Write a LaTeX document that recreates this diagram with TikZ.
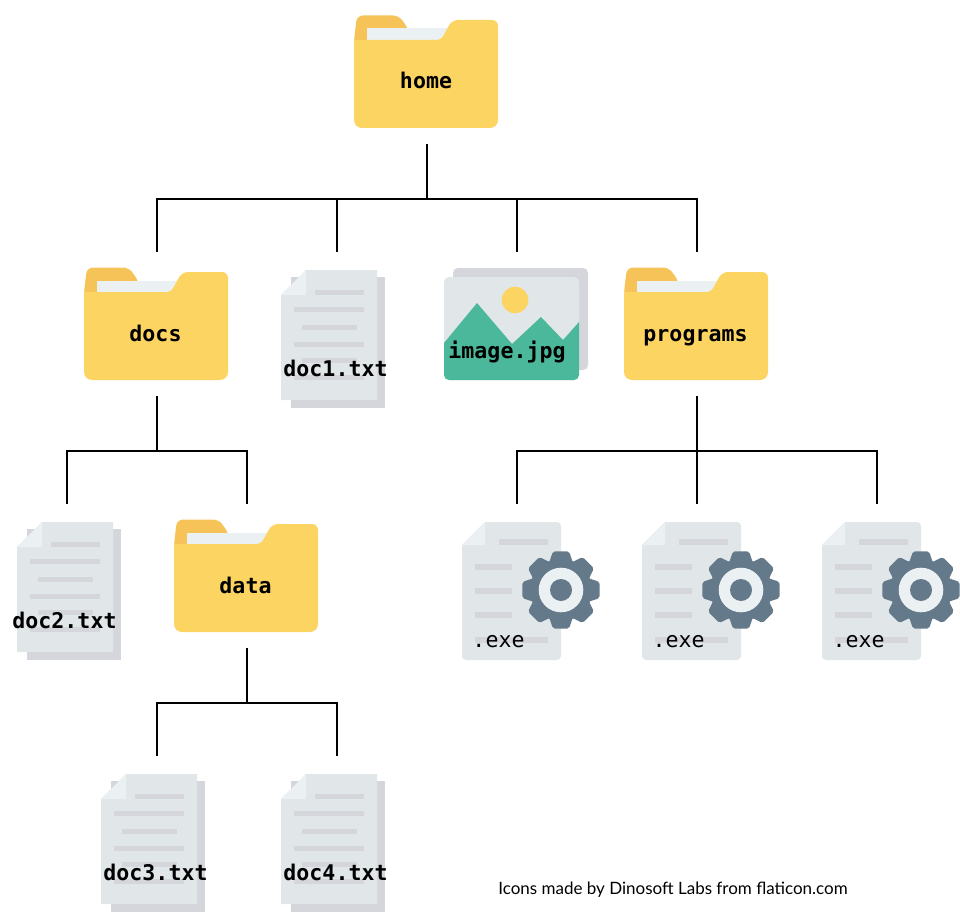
\documentclass[tikz,border=0pt]{standalone}
\usepackage{fontspec}
\setmonofont{DejaVu Sans Mono}
\setsansfont{Lato}
\usetikzlibrary{
  positioning
}
\definecolor{folderYellow}{HTML}{FCD462}
\definecolor{folderBack}{HTML}{F6C358}
\definecolor{paperLight}{HTML}{EBF0F3}
\definecolor{pageGray}{HTML}{E1E6E9}
\definecolor{stripeGray}{HTML}{D5D6DB}
\definecolor{hillGreen}{HTML}{4CB89B}
\definecolor{gearSlate}{HTML}{64798A}
\tikzset{
  folder/.pic={
    \fill[folderBack, rounded corners=6pt] (-73,-20) -- (-73,-32) -- (-70,-56.5) -- (-28,-56.5) -- (-18,-42) -- (-18,-20) -- cycle;
    \fill[paperLight] (-60.5,-43.5) rectangle (26,-28);
    \fill[folderYellow] (-73,-32) [rounded corners=4pt] -- (14,-32) [rounded corners=6pt] -- (25,-52) -- (71,-52) [rounded corners=8pt] -- (71,56) -- (-73,56) -- (-73,-20) [sharp corners] -- cycle;
  },
  document/.pic={
    \fill[stripeGray] (-46,-47) rectangle (48,84);
    \fill[pageGray] (-56,-29) -- (-31,-54) -- (40,-54) -- (40,76) -- (-56,76) -- cycle;
    \fill[paperLight] (-56,-29) -- (-31,-54) -- (-31,-29) -- cycle;
    \foreach \xa/\xb/\ya in {-22/27/-34, -43/27/-17, -35/20/1, -43/27/18, -35/20/34, -43/27/51}
      \fill[stripeGray] (\xa,\ya) rectangle (\xb,\ya+5);
  },
  picture/.pic={
    \fill[stripeGray, rounded corners=5pt] (-64,-56) rectangle (71,46);
    \fill[pageGray, rounded corners=5pt] (-73,-47) rectangle (62,56);
    \fill[hillGreen] (-73,19) -- (-40,-21) -- (-5,20) -- (24,-7) -- (46,16) -- (62,-2) [rounded corners=5pt] -- (62,56) -- (-73,56) -- (-73,30) [sharp corners] -- cycle;
    \fill[folderYellow] (-2,-24) circle[radius=13.3];
  },
  program/.pic={
    \fill[pageGray, rounded corners=4pt] (-55,-31) [sharp corners] -- (-32,-54) [rounded corners=4pt] -- (44,-54) -- (44,84) -- (-55,84) -- (-55,60) [sharp corners] -- cycle;
    \fill[paperLight] (-55,-31) -- (-32,-54) -- (-32,-31) -- cycle;
    \foreach \xa/\xb/\ya in {-18/31/-37, -42/-5/-12, -42/-5/12, -42/-5/36, -42/31/61}
      \fill[stripeGray] (\xa,\ya) rectangle (\xb,\ya+5.5);
    \begin{scope}[shift={(44,14)}]
      \fill[gearSlate] (0,0) circle[radius=31];
      \foreach \a in {0,45,...,315}
        \fill[gearSlate, rotate=\a, rounded corners=2pt] (27,-12) -- (38.7,-8) -- (38.7,8) -- (27,12) -- cycle;
      \fill[paperLight] (0,0) circle[radius=22.3];
      \fill[gearSlate] (0,0) circle[radius=11];
    \end{scope}
  }
}

\begin{document}
\begin{tikzpicture}[
    x=1pt, y=-1pt,
    node distance=108pt and 36pt,
    slot/.style={rectangle, inner sep=0pt, minimum width=144pt, minimum height=112pt, outer ysep=16pt, outer xsep=0pt},
    link/.style={draw=black, line width=2pt},
    filename/.style={font=\ttfamily\bfseries\fontsize{21.6}{24}\selectfont, anchor=base, inner sep=0pt, text=black},
    exename/.style={font=\ttfamily\fontsize{21.6}{24}\selectfont, anchor=base, inner sep=0pt, text=black, xshift=-18.5pt, yshift=-71.5pt},
    foldertext/.style={filename, xshift=-1.5pt, yshift=-17pt},
    doctext/.style={filename, xshift=-1.5pt, yshift=-52pt}
]
    \useasboundingbox (0,0) rectangle (960,912);

    % slots of the tree
    \node[slot] (home) at (427,72) {};

    \node[slot, below=of home, xshift=-270pt] (docs) {};
    \node[slot, right=of docs] (doc1) {};
    \node[slot, right=of doc1] (image) {};
    \node[slot, right=of image] (programs) {};

    \node[slot, below=of docs, xshift=-90pt] (doc2) {};
    \node[slot, right=of doc2] (data) {};
    \node[slot, below=of programs, xshift=-180pt] (exe1) {};
    \node[slot, right=of exe1] (exe2) {};
    \node[slot, right=of exe2] (exe3) {};

    \node[slot, below=of data, xshift=-90pt] (doc3) {};
    \node[slot, right=of doc3] (doc4) {};

    % icons
    \foreach \f in {home,docs,programs,data}
        \pic at (\f) {folder};
    \foreach \d in {doc1,doc3,doc4}
        \pic at (\d) {document};
    \pic[xshift=6pt] at (doc2) {document};
    \pic at (image) {picture};
    \foreach \e in {exe1,exe2,exe3}
        \pic at (\e) {program};

    % labels
    \node[foldertext, xshift=0.5pt] (homeText) at (home) {home};
    \node[foldertext] (docsText) at (docs) {docs};
    \node[foldertext] (programsText) at (programs) {programs};
    \node[foldertext] (dataText) at (data) {data};
    \node[doctext] (doc1Text) at (doc1) {doc1.txt};
    \node[doctext, xshift=-1pt] (doc2Text) at (doc2) {doc2.txt};
    \node[doctext] (doc3Text) at (doc3) {doc3.txt};
    \node[doctext] (doc4Text) at (doc4) {doc4.txt};
    \node[filename, xshift=-10pt, yshift=-34pt] (imageText) at (image) {image.jpg};
    \node[exename] (exe1Text) at (exe1) {.exe};
    \node[exename] (exe2Text) at (exe2) {.exe};
    \node[exename] (exe3Text) at (exe3) {.exe};

    \node[font=\sffamily\fontsize{17}{20}\selectfont, anchor=base, inner sep=0pt] (credit) at (673,894) {Icons made by Dinosoft Labs from flaticon.com};

    % connectors
    \coordinate[below=55pt of home] (homeBus);
    \coordinate[below=55pt of docs] (docsBus);
    \coordinate[below=55pt of programs] (programsBus);
    \coordinate[below=55pt of data] (dataBus);

    \draw[link] (home) -- (homeBus);
    \draw[link] (docs) -- (docsBus);
    \draw[link] (programs) -- (programsBus);
    \draw[link] (data) -- (dataBus);

    \foreach \c in {docs,doc1,image,programs}
        \draw[link] (homeBus) -| (\c);
    \foreach \c in {doc2,data}
        \draw[link] (docsBus) -| (\c);
    \foreach \c in {exe1,exe2,exe3}
        \draw[link] (programsBus) -| (\c);
    \foreach \c in {doc3,doc4}
        \draw[link] (dataBus) -| (\c);

\end{tikzpicture}
\end{document}
